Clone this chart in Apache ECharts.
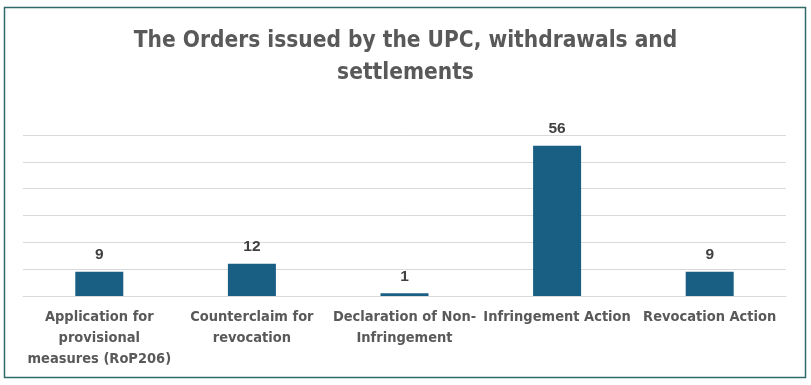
<!DOCTYPE html>
<html><head><meta charset="utf-8">
<script src="https://cdn.jsdelivr.net/npm/echarts@6/dist/echarts.min.js"></script>
<style>html,body{margin:0;padding:0;background:#fff}#c{width:811px;height:385px}</style>
</head><body><div id="c"></div>
<script>
const titleText = 'The Orders issued by the UPC, withdrawals and\nsettlements';
const categories = [
  'Application for\nprovisional\nmeasures (RoP206)',
  'Counterclaim for\nrevocation',
  'Declaration of Non-\nInfringement',
  'Infringement Action',
  'Revocation Action'
];
const values = [9, 12, 1, 56, 9];
const yTicks = {min: 0, max: 60, interval: 10};

const narrow = '"Liberation Sans Narrow", "DejaVu Sans Condensed", sans-serif';
const chart = echarts.init(document.getElementById('c'), null, {renderer: 'canvas'});
chart.setOption({
  animation: false,
  backgroundColor: '#fff',
  graphic: [{
    type: 'rect', shape: {x: 4.5, y: 7.5, width: 801, height: 370},
    style: {fill: 'none', stroke: '#2f6b68', lineWidth: 1.5}, z: -1
  }],
  title: {
    text: titleText, left: 'center', top: 20,
    textStyle: {fontFamily: narrow, fontWeight: 'bold', fontSize: 22.5, color: '#595959', lineHeight: 32}
  },
  grid: {left: 23, right: 25, top: 135, bottom: 89, containLabel: false},
  xAxis: {
    type: 'category', data: categories,
    axisLine: {lineStyle: {color: '#d9d9d9'}},
    axisTick: {show: false},
    axisLabel: {interval: 0, margin: 11, fontFamily: narrow, fontWeight: 'bold', fontSize: 14.5, color: '#595959', lineHeight: 21}
  },
  yAxis: {
    type: 'value', min: yTicks.min, max: yTicks.max, interval: yTicks.interval,
    axisLabel: {show: false}, axisLine: {show: false}, axisTick: {show: false},
    splitLine: {lineStyle: {color: '#d9d9d9'}}
  },
  series: [{
    type: 'bar', data: values, barWidth: 48,
    itemStyle: {color: '#195e83'},
    label: {show: true, position: 'top', distance: 9, fontFamily: 'Liberation Sans, Arial, sans-serif', fontWeight: 'bold', fontSize: 15.5, color: '#404040'}
  }]
});
</script></body></html>
